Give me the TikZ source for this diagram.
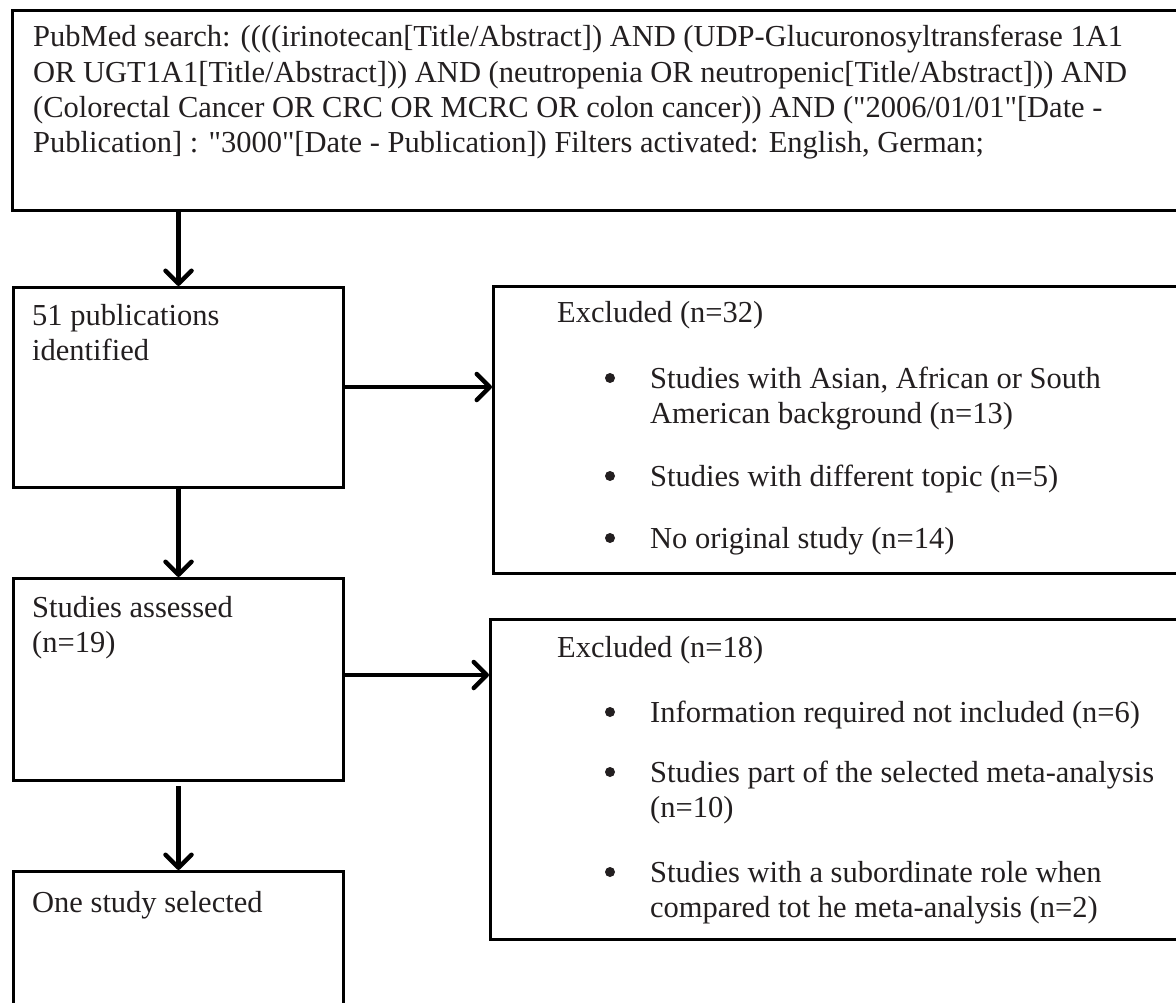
\documentclass[tikz,border=0pt]{standalone}
\usepackage{fontspec}
\setmainfont{Liberation Serif}
\usetikzlibrary{arrows.meta}
\definecolor{ink}{HTML}{231F20}
% plain font instance without the TeX quote mapping, for straight double quotes
\font\plainq="Liberation Serif" at 30.5pt
\newcommand\qq{{\plainq\char"22\relax}}
\begin{document}
\begin{tikzpicture}[x=1pt,y=-1pt,
  frame/.style={draw=black, line width=3pt, inner sep=0pt, rectangle, anchor=north west},
  flow/.style={draw=black, line width=4.5pt, -{Straight Barb[length=13pt,width=26pt,round]}},
  txt/.style={anchor=base west, inner sep=0pt, text=ink, font=\fontsize{30.5}{35}\selectfont},
  bul/.style={circle, fill=ink, inner sep=0pt, minimum size=10pt}
]
\useasboundingbox (0,0) rectangle (1176,1003);
\clip (0,0) rectangle (1176,1003);

% boxes
\node[frame, minimum width=1180pt, minimum height=200pt] (search) at (11,9) {};
\node[frame, minimum width=330pt, minimum height=200pt] (ident) at (12,286) {};
\node[frame, minimum width=330pt, minimum height=202pt] (assess) at (12,577) {};
\node[frame, minimum width=330pt, minimum height=160pt] (select) at (12,870) {};
\node[frame, minimum width=700pt, minimum height=287pt] (excA) at (492,285) {};
\node[frame, minimum width=700pt, minimum height=320pt] (excB) at (489,618) {};

% search string
\node[txt] (s1) at (33,47) {PubMed search: ((((irinotecan[Title/Abstract]) AND (UDP-Glucuronosyltransferase 1A1};
\node[txt] (s2) at (33,83) {OR UGT1A1[Title/Abstract])) AND (neutropenia OR neutropenic[Title/Abstract])) AND};
\node[txt] (s3) at (33,118) {(Colorectal Cancer OR CRC OR MCRC OR colon cancer)) AND (\qq2006/01/01\qq[Date -};
\node[txt] (s4) at (33,153) {Publication] : \qq3000\qq[Date - Publication]) Filters activated: English, German;};

% left column
\node[txt] (i1) at (32,325) {51 publications};
\node[txt] (i2) at (32,360) {identified};
\node[txt] (a1) at (32,617) {Studies assessed};
\node[txt] (a2) at (32,652) {(n=19)};
\node[txt] (o1) at (32,912) {One study selected};

% first exclusion box
\node[txt] (ea) at (557,323) {Excluded (n=32)};
\node[bul] (ba1) at (610,378) {};
\node[txt] (ta1) at (650,388) {Studies with Asian, African or South};
\node[txt] (ta1b) at (650,423) {American background (n=13)};
\node[bul] (ba2) at (610,476) {};
\node[txt] (ta2) at (650,486) {Studies with different topic (n=5)};
\node[bul] (ba3) at (610,538) {};
\node[txt] (ta3) at (650,548) {No original study (n=14)};

% second exclusion box
\node[txt] (eb) at (557,657) {Excluded (n=18)};
\node[bul] (bb1) at (610,712) {};
\node[txt] (tb1) at (650,722) {Information required not included (n=6)};
\node[bul] (bb2) at (610,772) {};
\node[txt] (tb2) at (650,782) {Studies part of the selected meta-analysis};
\node[txt] (tb2b) at (650,817) {(n=10)};
\node[bul] (bb3) at (610,872) {};
\node[txt] (tb3) at (650,882) {Studies with a subordinate role when};
\node[txt] (tb3b) at (650,917) {compared tot he meta-analysis (n=2)};

% connectors
\draw[flow] (search.south -| ident.north) -- (ident.north);
\draw[flow] (ident.south) -- (assess.north);
\draw[flow] ([yshift=-4pt]assess.south) -- (select.north);
\draw[flow] ([yshift=-101pt]ident.north east) -- ([yshift=-101pt]ident.north east -| excA.west);
\draw[flow] ([yshift=-98pt]assess.north east) -- ([yshift=-98pt]assess.north east -| excB.west);
\end{tikzpicture}
\end{document}
